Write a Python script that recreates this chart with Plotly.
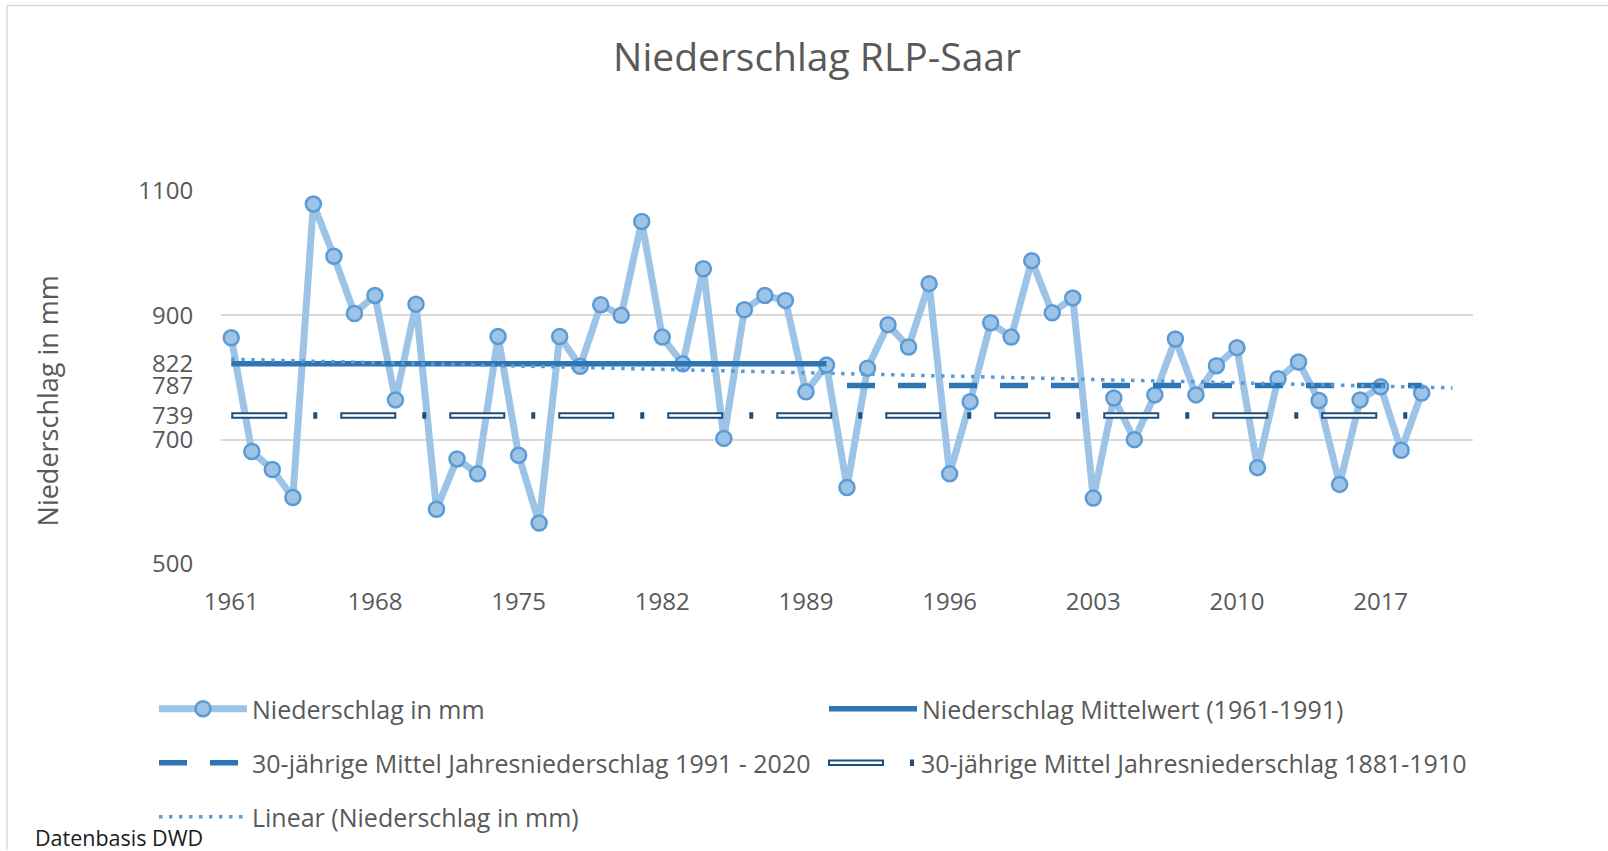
import numpy as np
import plotly.graph_objects as go

# ---------------- data ----------------
years = list(range(1961, 2020))
precip = [864, 681, 652, 607, 1079, 995, 903, 932, 764, 918,
          588, 669, 645, 866, 675, 566, 866, 818, 917, 900,
          1051, 865, 822, 975, 702, 909, 932, 924, 777, 820,
          623, 815, 885, 849, 951, 645, 761, 888, 865, 988,
          904, 928, 606, 767, 700, 772, 862, 772, 819, 848,
          655, 798, 825, 763, 628, 764, 785, 683, 775]

mean_1961_1990 = 822
mean_1991_2020 = 787
mean_1881_1910 = 739
trend_forward_years = 1.5

y_grid_ticks = [500, 700, 900, 1100]
y_extra_ticks = [739, 787, 822]
x_ticks = list(range(1961, 2018, 7))

names = ["Niederschlag in mm",
         "Niederschlag Mittelwert (1961-1991)",
         "30-jährige Mittel Jahresniederschlag 1991 - 2020",
         "30-jährige Mittel Jahresniederschlag 1881-1910",
         "Linear (Niederschlag in mm)"]

# ---------------- layout geometry ----------------
W, H = 1608, 851
L, R, T, B = 221, 135, 191, 286
pw, ph = W - L - R, H - T - B


def px_x(X):
    return (X - L) / pw


def px_y(Y):
    return (H - B - Y) / ph


FONT = "Open Sans"
GREY = "#595959"

yrs_old = [y for y in years if y <= 1990]
yrs_new = [y for y in years if y >= 1991]

coef = np.polyfit(years, precip, 1)
trend_x = [years[0], years[-1] + trend_forward_years]
trend_y = list(np.polyval(coef, trend_x))

fig = go.Figure()
fig.add_trace(go.Scatter(
    x=years, y=precip, mode="lines+markers", name=names[0],
    line=dict(color="#9DC3E6", width=7),
    marker=dict(size=15, color="#9DC3E6", line=dict(color="#5B9BD5", width=2.5)),
    legend="legend"))
fig.add_trace(go.Scatter(
    x=yrs_old, y=[mean_1961_1990] * len(yrs_old), mode="lines", name=names[1],
    line=dict(color="#2E75B6", width=5.5), legend="legend2"))
fig.add_trace(go.Scatter(
    x=yrs_new, y=[mean_1991_2020] * len(yrs_new), mode="lines", name=names[2],
    line=dict(color="#2E75B6", width=5.5, dash="28px,23px"), legend="legend3"))
fig.add_trace(go.Scatter(
    x=years, y=[mean_1881_1910] * len(years), mode="lines", name=names[3],
    line=dict(color="#1F4E79", width=6.5, dash="56px,26px,4px,23px"), legend="legend4"))
fig.add_trace(go.Scatter(
    x=years, y=[mean_1881_1910] * len(years), mode="lines", name=" ",
    line=dict(color="#FFFFFF", width=2.5, dash="0px,2px,52px,55px"), legend="legend5"))
fig.add_trace(go.Scatter(
    x=trend_x, y=trend_y, mode="lines", name=names[4],
    line=dict(color="#5B9BD5", width=3.5, dash="3.5px,6.5px"), legend="legend6"))

# invisible trace on second y axis for the extra labels
fig.add_trace(go.Scatter(x=[years[0]], y=[mean_1961_1990], yaxis="y2", mode="markers",
                         marker=dict(opacity=0), showlegend=False, hoverinfo="skip"))

leg_common = dict(orientation="h", bgcolor="rgba(0,0,0,0)", borderwidth=0,
                  font=dict(family=FONT, size=25, color=GREY),
                  itemwidth=88, xanchor="left", yanchor="middle",
                  itemclick=False, itemdoubleclick=False)


def leg(xsym, ycen):
    d = dict(leg_common)
    d.update(x=px_x(xsym - 5), y=px_y(ycen))
    return d


fig.update_layout(
    width=W, height=H,
    margin=dict(l=L, r=R, t=T, b=B),
    paper_bgcolor="white", plot_bgcolor="white",
    font=dict(family=FONT, color=GREY),
    title=dict(text="Niederschlag RLP-Saar", x=817 / W, xanchor="center",
               y=1 - 57 / H, yanchor="middle",
               font=dict(family=FONT, size=39, color=GREY)),
    xaxis=dict(range=[years[0] - 0.5, years[-1] + 2.5], tickvals=x_ticks,
               showgrid=False, zeroline=False, showline=False,
               ticks="outside", ticklen=16, tickcolor="rgba(0,0,0,0)",
               tickfont=dict(family=FONT, size=24, color=GREY)),
    yaxis=dict(range=[500, 1100], tickvals=y_grid_ticks, showgrid=True,
               gridcolor="#D9D9D9", gridwidth=1.5, zeroline=False, showline=False,
               ticks="outside", ticklen=22, tickcolor="rgba(0,0,0,0)",
               tickfont=dict(family=FONT, size=24, color=GREY)),
    yaxis2=dict(range=[500, 1100], tickvals=y_extra_ticks, overlaying="y", side="left",
                showgrid=False, zeroline=False, showline=False,
                ticks="outside", ticklen=22, tickcolor="rgba(0,0,0,0)",
                tickfont=dict(family=FONT, size=24, color=GREY)),
    legend=leg(159, 709),
    legend2=leg(829, 709),
    legend3=leg(159, 763),
    legend4=leg(828, 763),
    legend5=leg(828, 763),
    legend6=leg(159, 817),
    showlegend=True,
    annotations=[
        dict(text="Niederschlag in mm", textangle=-90, xref="paper", yref="paper",
             x=px_x(47), y=px_y(402), xanchor="center", yanchor="middle",
             showarrow=False, font=dict(family=FONT, size=27, color=GREY)),
        dict(text="Datenbasis DWD", xref="paper", yref="paper",
             x=px_x(33), y=px_y(839), xanchor="left", yanchor="middle",
             showarrow=False, font=dict(family=FONT, size=21.5, color="#1a1a1a")),
    ],
    shapes=[
        dict(type="line", xref="paper", yref="paper", x0=px_x(7), x1=px_x(W),
             y0=px_y(5), y1=px_y(5), line=dict(color="#D9D9D9", width=1.5)),
        dict(type="line", xref="paper", yref="paper", x0=px_x(7), x1=px_x(7),
             y0=px_y(5), y1=px_y(H), line=dict(color="#D9D9D9", width=1.5)),
    ],
)

fig.write_html("out.html", config={"displayModeBar": False},
               post_script="document.body.style.margin='0px';")
